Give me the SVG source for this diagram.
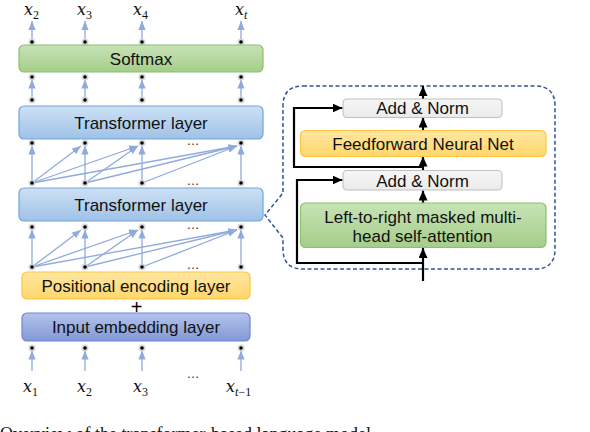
<svg xmlns="http://www.w3.org/2000/svg" xmlns:xlink="http://www.w3.org/1999/xlink" width="590" height="432" viewBox="0 0 590 432">
<style>
.lbl{font-family:"Liberation Sans",Arial,sans-serif;font-size:17px;fill:#111;text-anchor:middle}
.math{font-family:"DejaVu Serif","Liberation Serif",serif;font-size:16px;fill:#111}
.mi{font-style:italic}
.sub{font-family:"Liberation Serif","Times New Roman",serif;font-size:12px}
.ell{font-family:"Liberation Sans",Arial,sans-serif;font-size:13px;fill:#333;text-anchor:middle}
.blue{stroke:#8faadc;stroke-width:1.3;fill:none;marker-end:url(#ab)}
.blk{stroke:#000;stroke-width:2.2;fill:none;marker-end:url(#ak)}
.cap{font-family:"Liberation Serif","Times New Roman",serif;font-size:18px;fill:#111}
</style>
<defs>
<linearGradient id="gBlue" x1="0" y1="0" x2="0" y2="1"><stop offset="0" stop-color="#cde0f4"/><stop offset="1" stop-color="#9fc2e8"/></linearGradient>
<linearGradient id="gGreen" x1="0" y1="0" x2="0" y2="1"><stop offset="0" stop-color="#c8e3b6"/><stop offset="1" stop-color="#a4cd8a"/></linearGradient>
<linearGradient id="gYel" x1="0" y1="0" x2="0" y2="1"><stop offset="0" stop-color="#ffe8a3"/><stop offset="1" stop-color="#ffd66b"/></linearGradient>
<linearGradient id="gPur" x1="0" y1="0" x2="0" y2="1"><stop offset="0" stop-color="#b3c3ec"/><stop offset="1" stop-color="#8299d6"/></linearGradient>
<linearGradient id="gGry" x1="0" y1="0" x2="0" y2="1"><stop offset="0" stop-color="#f6f6f6"/><stop offset="1" stop-color="#ebebeb"/></linearGradient>
<marker id="ab" markerUnits="userSpaceOnUse" markerWidth="10" markerHeight="8" refX="9" refY="3.6" orient="auto"><path d="M0,0 L9,3.6 L0,7.2 z" fill="#8faadc"/></marker>
<marker id="ak" markerUnits="userSpaceOnUse" markerWidth="11" markerHeight="10" refX="10" refY="4.5" orient="auto"><path d="M0,0 L10,4.5 L0,9 z" fill="#000"/></marker>
<g id="dt"><circle r="3.6" fill="#cfcfcf" opacity="0.8"/><circle r="1.8" fill="#000"/></g>
</defs>

<rect width="590" height="432" fill="#fff"/>

<g id="connectors">
<path class="blue" d="M32,41 V21"/><path class="blue" d="M85,41 V21"/><path class="blue" d="M142,41 V21"/><path class="blue" d="M241,41 V21"/>
<path class="blue" d="M32,100 V79.5"/><path class="blue" d="M85,100 V79.5"/><path class="blue" d="M142,100 V79.5"/><path class="blue" d="M241,100 V79.5"/>
<path class="blue" d="M32,183 V145.5"/><path class="blue" d="M85,183 V145.5"/><path class="blue" d="M142,183 V145.5"/><path class="blue" d="M241,183 V145.5"/>
<path class="blue" d="M32,183 L81,146"/><path class="blue" d="M32,183 L138,146"/><path class="blue" d="M32,183 L237,146"/>
<path class="blue" d="M85,183 L138,146"/><path class="blue" d="M85,183 L237,146"/>
<path class="blue" d="M142,183 L237,146"/>
<path class="blue" d="M32,267 V229.5"/><path class="blue" d="M85,267 V229.5"/><path class="blue" d="M142,267 V229.5"/><path class="blue" d="M241,267 V229.5"/>
<path class="blue" d="M32,267 L81,230"/><path class="blue" d="M32,267 L138,230"/><path class="blue" d="M32,267 L237,230"/>
<path class="blue" d="M85,267 L138,230"/><path class="blue" d="M85,267 L237,230"/>
<path class="blue" d="M142,267 L237,230"/>
<path class="blue" d="M32,371 V350.5"/><path class="blue" d="M85,371 V350.5"/><path class="blue" d="M142,371 V350.5"/><path class="blue" d="M241,371 V350.5"/>
<use href="#dt" x="32" y="42"/><use href="#dt" x="85" y="42"/><use href="#dt" x="142" y="42"/><use href="#dt" x="241" y="42"/>
<use href="#dt" x="32" y="77"/><use href="#dt" x="85" y="77"/><use href="#dt" x="142" y="77"/><use href="#dt" x="241" y="77"/>
<use href="#dt" x="32" y="100"/><use href="#dt" x="85" y="100"/><use href="#dt" x="142" y="100"/><use href="#dt" x="241" y="100"/>
<use href="#dt" x="32" y="143"/><use href="#dt" x="85" y="143"/><use href="#dt" x="142" y="143"/><use href="#dt" x="241" y="143"/>
<use href="#dt" x="32" y="183"/><use href="#dt" x="85" y="183"/><use href="#dt" x="142" y="183"/><use href="#dt" x="241" y="183"/>
<use href="#dt" x="32" y="227"/><use href="#dt" x="85" y="227"/><use href="#dt" x="142" y="227"/><use href="#dt" x="241" y="227"/>
<use href="#dt" x="32" y="267"/><use href="#dt" x="85" y="267"/><use href="#dt" x="142" y="267"/><use href="#dt" x="241" y="267"/>
<use href="#dt" x="32" y="348"/><use href="#dt" x="85" y="348"/><use href="#dt" x="142" y="348"/><use href="#dt" x="241" y="348"/>
<text class="ell" x="193" y="145">…</text><text class="ell" x="193" y="185">…</text>
<text class="ell" x="193" y="229">…</text><text class="ell" x="193" y="269">…</text>
<text class="ell" x="193" y="378">…</text>
<path d="M303,86 H535 Q555,86 555,106 V249 Q555,269 535,269 H303 Q283,269 283,249 V238 L265,215 L283,193 V106 Q283,86 303,86 Z" fill="none" stroke="#2f5597" stroke-width="1.5" stroke-dasharray="4 2.5"/>
<path class="blk" d="M423,281 V248"/>
<path class="blk" d="M423,203 V190.5"/>
<path class="blk" d="M423,170 V156.5"/>
<path class="blk" d="M423,130.5 V117.5"/>
<path class="blk" d="M423,99 V86"/>
<path class="blk" d="M423,263 H297 V180 H342.5"/>
<path class="blk" d="M423,167 H294 V108 H342.5"/>
</g>

<g id="out-labels">
<text class="math" x="24" y="15"><tspan class="mi">x</tspan><tspan class="sub" dy="3.5">2</tspan></text>
<text class="math" x="77" y="15"><tspan class="mi">x</tspan><tspan class="sub" dy="3.5">3</tspan></text>
<text class="math" x="133" y="15"><tspan class="mi">x</tspan><tspan class="sub" dy="3.5">4</tspan></text>
<text class="math" x="235" y="15"><tspan class="mi">x</tspan><tspan class="sub mi" dy="3.5">t</tspan></text>
</g>

<g id="softmax"><rect x="19" y="45" width="244" height="27" rx="5" fill="url(#gGreen)" stroke="#8cc06a" stroke-width="1.2"/><text class="lbl" x="141" y="64.6">Softmax</text></g>
<g id="transformer1"><rect x="19" y="106" width="244" height="33" rx="5" fill="url(#gBlue)" stroke="#74a4d8" stroke-width="1.2"/><text class="lbl" x="141" y="128.8">Transformer layer</text></g>
<g id="transformer2"><rect x="19" y="188" width="244" height="33" rx="5" fill="url(#gBlue)" stroke="#74a4d8" stroke-width="1.2"/><text class="lbl" x="141" y="210.8">Transformer layer</text></g>
<g id="positional"><rect x="22" y="272" width="228" height="27" rx="5" fill="url(#gYel)" stroke="#ffc43d" stroke-width="1.2"/><text class="lbl" x="136" y="291.8">Positional encoding layer</text></g>
<g id="plus"><text x="136.5" y="313.5" style="font-family:'Liberation Sans',Arial,sans-serif;font-size:20px;fill:#000;text-anchor:middle">+</text></g>
<g id="embedding"><rect x="22" y="313" width="228" height="28" rx="5" fill="url(#gPur)" stroke="#6f87cc" stroke-width="1.2"/><text class="lbl" x="136" y="333.2">Input embedding layer</text></g>

<g id="in-labels">
<text class="math" x="23" y="392"><tspan class="mi">x</tspan><tspan class="sub" dy="3.5">1</tspan></text>
<text class="math" x="77" y="392"><tspan class="mi">x</tspan><tspan class="sub" dy="3.5">2</tspan></text>
<text class="math" x="133" y="392"><tspan class="mi">x</tspan><tspan class="sub" dy="3.5">3</tspan></text>
<text class="math" x="226" y="392"><tspan class="mi">x</tspan><tspan class="sub" dy="3.5"><tspan class="mi">t</tspan>−1</tspan></text>
</g>

<g id="addnorm2"><rect x="343" y="99" width="159" height="18.5" rx="4" fill="url(#gGry)" stroke="#c0c0c0" stroke-width="1.1"/><text class="lbl" x="422.5" y="114.3">Add &amp; Norm</text></g>
<g id="feedforward"><rect x="300.5" y="130.5" width="245.5" height="26" rx="5" fill="url(#gYel)" stroke="#ffc43d" stroke-width="1.2"/><text class="lbl" x="423" y="149.6">Feedforward Neural Net</text></g>
<g id="addnorm1"><rect x="343" y="170.5" width="159" height="19.5" rx="4" fill="url(#gGry)" stroke="#c0c0c0" stroke-width="1.1"/><text class="lbl" x="422.5" y="186.6">Add &amp; Norm</text></g>
<g id="attention"><rect x="300.5" y="203" width="245.5" height="44.5" rx="5" fill="url(#gGreen)" stroke="#8cc06a" stroke-width="1.2"/><text class="lbl" x="423" y="223.3">Left-to-right masked multi-</text><text class="lbl" x="422.5" y="241.6">head self-attention</text></g>

<g id="caption"><text class="cap" x="0" y="440">Overview of the transformer-based language model</text></g>
</svg>
